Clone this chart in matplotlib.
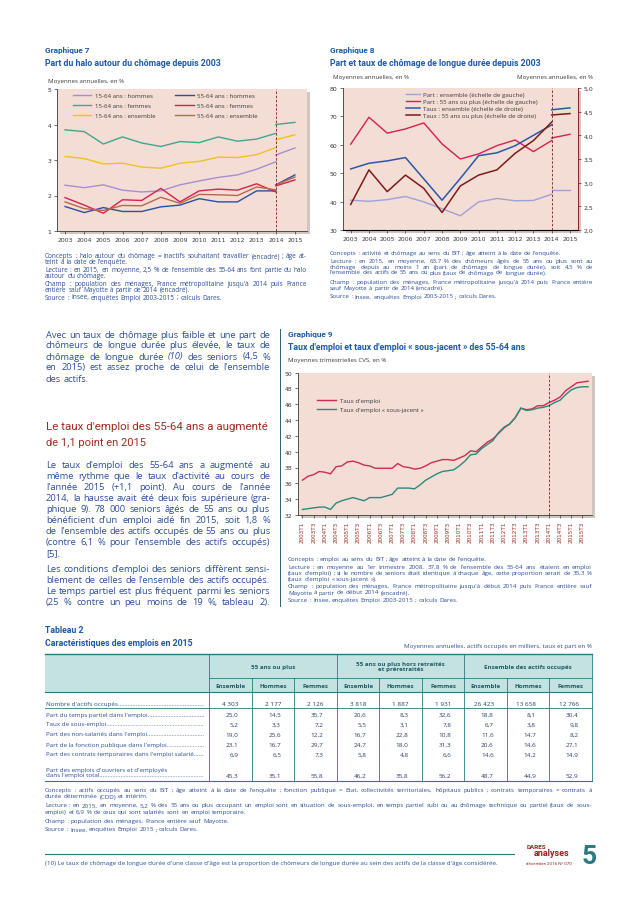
import numpy as np
import matplotlib.pyplot as plt
from matplotlib.lines import Line2D
from matplotlib.patches import Rectangle

W, H = 638, 903
BODY = ['Open Sans', 'DejaVu Sans']
NARROW = ['Roboto', 'Liberation Sans', 'DejaVu Sans']

BLUE_T = '#1f5aa6'
TXT = '#2c4f9c'
RED_H = '#9a2e22'
TEAL = '#2a7a80'
PINK = '#f3ddd4'
GREY = '#3a3a3a'

# ---- Graphique 7 : halo autour du chômage (old series to 2014, new from 2014)
years = list(range(2003, 2015))
years_new = [2014, 2015]
h1564 = [2.29, 2.22, 2.30, 2.15, 2.10, 2.13, 2.30, 2.41, 2.51, 2.58, 2.74, 2.95]
h1564_new = [3.14, 3.34]
f1564 = [3.85, 3.80, 3.45, 3.65, 3.48, 3.38, 3.52, 3.49, 3.65, 3.53, 3.59, 3.75]
f1564_new = [4.00, 4.06]
e1564 = [3.10, 3.04, 2.89, 2.91, 2.80, 2.77, 2.91, 2.96, 3.08, 3.07, 3.15, 3.35]
e1564_new = [3.57, 3.71]
h5564 = [1.69, 1.52, 1.66, 1.55, 1.55, 1.68, 1.73, 1.91, 1.82, 1.82, 2.13, 2.13]
h5564_new = [2.30, 2.58]
f5564 = [1.94, 1.73, 1.50, 1.88, 1.86, 2.20, 1.82, 2.13, 2.18, 2.15, 2.33, 2.10]
f5564_new = [2.27, 2.44]
e5564 = [1.82, 1.63, 1.58, 1.72, 1.71, 1.95, 1.78, 2.03, 2.02, 2.00, 2.24, 2.16]
e5564_new = [2.30, 2.52]

# ---- Graphique 8 : part et taux de chômage de longue durée
part_ens = [40.5, 40.1, 40.7, 41.8, 39.9, 37.5, 35.0, 39.9, 41.1, 40.3, 40.4, 42.6]
part_ens_new = [44.0, 44.0]
part_55 = [60.2, 69.7, 64.1, 65.6, 67.7, 60.3, 55.0, 56.8, 59.7, 61.7, 57.6, 61.5]
part_55_new = [62.4, 63.7]
taux_ens = [3.29, 3.41, 3.46, 3.53, 3.08, 2.63, 3.09, 3.57, 3.63, 3.78, 4.00, 4.22]
taux_ens_new = [4.54, 4.58]
taux_55 = [2.54, 3.27, 2.81, 3.16, 2.88, 2.37, 2.93, 3.16, 3.27, 3.62, 3.89, 4.28]
taux_55_new = [4.43, 4.46]

# ---- Graphique 9 : taux d'emploi trimestriel 2003T1-2015T4
quarters = [f"{y}T{q}" for y in range(2003, 2016) for q in range(1, 5)]
taux_emploi = [36.4, 36.9, 37.1, 37.5, 37.4, 37.2, 38.1, 38.2, 38.7, 38.8, 38.6, 38.3,
               38.2, 37.9, 37.9, 37.9, 37.9, 38.5, 38.1, 38.0, 37.8, 37.9, 38.2, 38.6,
               38.8, 39.0, 39.0, 38.9, 39.2, 39.5, 40.1, 40.0, 40.6, 41.2, 41.6, 42.3,
               43.0, 43.5, 44.3, 45.5, 45.3, 45.4, 45.8, 45.8, 46.2, 46.5, 46.9, 47.7,
               48.2, 48.7, 48.8, 48.9]
taux_sj = [32.7, 32.8, 32.9, 33.0, 33.0, 32.7, 33.5, 33.8, 34.0, 34.2, 34.0, 33.8,
           34.2, 34.2, 34.2, 34.4, 34.6, 35.4, 35.4, 35.4, 35.3, 35.8, 36.4, 36.8,
           37.2, 37.5, 37.6, 37.7, 38.2, 38.8, 39.6, 39.7, 40.4, 40.9, 41.4, 42.4,
           43.1, 43.5, 44.3, 45.5, 45.2, 45.3, 45.5, 45.6, 45.8, 46.2, 46.5, 47.2,
           47.8, 48.1, 48.2, 48.2]

# ---- Tableau 2
groups = ["55 ans ou plus", "55 ans ou plus hors retraités\net préretraités",
          "Ensemble des actifs occupés"]
subcols = ["Ensemble", "Hommes", "Femmes"]
row_labels = ["Nombre d'actifs occupés", "Part du temps partiel dans l'emploi",
              "Taux de sous-emploi", "Part des non-salariés dans l'emploi",
              "Part de la fonction publique dans l'emploi",
              "Part des contrats temporaires dans l'emploi salarié",
              "dans l'emploi total"]
table_values = [
    ["4 303", "2 177", "2 126", "3 818", "1 887", "1 931", "26 423", "13 658", "12 766"],
    ["25,0", "14,5", "35,7", "20,6", "8,3", "32,6", "18,8", "8,1", "30,4"],
    ["5,2", "3,3", "7,2", "5,5", "3,1", "7,8", "6,7", "3,8", "9,8"],
    ["19,0", "25,6", "12,2", "16,7", "22,8", "10,8", "11,6", "14,7", "8,2"],
    ["23,1", "16,7", "29,7", "24,7", "18,0", "31,3", "20,6", "14,6", "27,1"],
    ["6,9", "6,5", "7,3", "5,8", "4,8", "6,6", "14,6", "14,2", "14,9"],
    ["45,3", "35,1", "55,8", "46,2", "35,8", "56,2", "48,7", "44,9", "52,9"],
]

fig = plt.figure(figsize=(W / 100, H / 100), dpi=100)
renderer = fig.canvas.get_renderer()


def fx(x):
    return x / W


def fy(y):
    return 1 - y / H


def axes_px(x0, y0, x1, y1):
    return fig.add_axes([fx(x0), fy(y1), (x1 - x0) / W, (y1 - y0) / H])


def txt(x, y, s, size=4.3, color=TXT, family=BODY, **kw):
    kw.setdefault('va', 'center')
    return fig.text(fx(x), fy(y), s, fontsize=size, color=color, family=family, **kw)


def fit(x, y, s, width, size, color=BLUE_T, **kw):
    # the original titles use a condensed face: keep the size, cap the width
    kw.setdefault('family', NARROW)
    t = txt(x, y, s, size=size, color=color, **kw)
    w = t.get_window_extent(renderer).width
    if w > width:
        t.set_fontsize(size * width / w)
    return t


def hline(x0, x1, y, color=TEAL, lw=0.6, **kw):
    fig.add_artist(Line2D([fx(x0), fx(x1)], [fy(y), fy(y)], color=color, lw=lw, **kw))


def vline(x, y0, y1, color=TEAL, lw=0.6, **kw):
    fig.add_artist(Line2D([fx(x), fx(x)], [fy(y0), fy(y1)], color=color, lw=lw, **kw))


def make_words(s, y, size, color, family):
    arts = []
    for w in s.split():
        style = 'italic' if w.startswith('*') else 'normal'
        arts.append(txt(0, y, w.strip('*'), size=size, color=color,
                        family=family, style=style))
    return arts


def paragraph(lines, x0, x1, ys, size, color=TXT, family=BODY):
    # a line ending with '|' is the last line of a paragraph (not justified)
    width = x1 - x0
    sp = 0.27
    for s in lines:
        arts = make_words(s.rstrip('|'), 0, size, color, family)
        nat = sum(a.get_window_extent(renderer).width for a in arts)
        nat += sp * size * 1.389 * (len(arts) - 1)
        for a in arts:
            a.remove()
        if nat > width:
            size *= width / nat * 0.995
    for s, y in zip(lines, ys):
        last = s.endswith('|')
        arts = make_words(s.rstrip('|'), y, size, color, family)
        widths = [a.get_window_extent(renderer).width for a in arts]
        gap = sp * size * 1.389
        if not last and len(arts) > 1:
            gap = (width - sum(widths)) / (len(arts) - 1)
        x = x0
        for a, w in zip(arts, widths):
            a.set_x(fx(x))
            x += w + gap


def shadow(x0, y0, x1, y1):
    fig.add_artist(Rectangle((fx(x0 + 3), fy(y1 + 3)), (x1 - x0) / W, (y1 - y0) / H,
                             color='#cfc6c2', zorder=-5, lw=0))


def style_ax(ax):
    ax.set_facecolor(PINK)
    for s in ['top', 'right']:
        ax.spines[s].set_visible(False)
    for s in ['left', 'bottom']:
        ax.spines[s].set_color(GREY)
        ax.spines[s].set_linewidth(0.6)
    ax.tick_params(labelsize=4.4, length=2, width=0.5, color=GREY, labelcolor=GREY, pad=2)


# ================= Graphique 7
fit(45, 50, "Graphique 7", 45, 6.3, weight='bold')
fit(45, 63, "Part du halo autour du chômage depuis 2003", 180, 6.3, weight='bold')
txt(48, 81, "Moyennes annuelles, en %", size=4.4, color=GREY)
shadow(57, 90, 307, 232)
ax7 = axes_px(57, 90, 307, 232)
style_ax(ax7)
series7 = [(h1564, h1564_new, '#a58fd3', "15-64 ans : hommes"),
           (f1564, f1564_new, '#3ea78f', "15-64 ans : femmes"),
           (e1564, e1564_new, '#f2c21b', "15-64 ans : ensemble"),
           (h5564, h5564_new, '#2c4f9f', "55-64 ans : hommes"),
           (f5564, f5564_new, '#d6204e', "55-64 ans : femmes"),
           (e5564, e5564_new, '#b8694c', "55-64 ans : ensemble")]
for old, new, col, lab in series7:
    ax7.plot(years, old, color=col, lw=1.0, label=lab)
    ax7.plot(years_new, new, color=col, lw=1.0)
ax7.axvline(2014, color='#7a1d1d', ls=(0, (3, 2)), lw=0.6)
ax7.set_xlim(2002.58, 2015.63)
ax7.set_ylim(1, 5)
ax7.set_xticks(range(2003, 2016))
ax7.set_yticks(range(1, 6))
ax7.legend(ncol=2, loc='upper left', bbox_to_anchor=(0.05, 0.995), frameon=False,
           handlelength=3.0, handletextpad=0.6, labelspacing=0.75,
           columnspacing=3.3, borderpad=0, prop={'family': BODY, 'size': 4.4},
           labelcolor=GREY)

# ================= Graphique 8
fit(330, 50, "Graphique 8", 45, 6.3, weight='bold')
fit(330, 63, "Part et taux de chômage de longue durée depuis 2003", 215, 6.3, weight='bold')
txt(333, 78, "Moyennes annuelles, en %", size=4.4, color=GREY)
txt(593, 78, "Moyennes annuelles, en %", size=4.4, color=GREY, ha='right')
shadow(343, 89, 578, 231)
ax8 = axes_px(343, 89, 578, 231)
style_ax(ax8)
l1, = ax8.plot(years, part_ens, color='#9ea2d8', lw=1.0)
ax8.plot(years_new, part_ens_new, color='#9ea2d8', lw=1.0)
l2, = ax8.plot(years, part_55, color='#d6204e', lw=1.0)
ax8.plot(years_new, part_55_new, color='#d6204e', lw=1.0)
ax8.set_ylim(30, 80)
ax8.set_yticks(range(30, 81, 10))
ax8.set_xlim(2002.58, 2015.44)
ax8.set_xticks(range(2003, 2016))
ax8.axvline(2014, color='#7a1d1d', ls=(0, (3, 2)), lw=0.6)
ax8r = ax8.twinx()
l3, = ax8r.plot(years, taux_ens, color='#2c58a8', lw=1.1)
ax8r.plot(years_new, taux_ens_new, color='#2c58a8', lw=1.1)
l4, = ax8r.plot(years, taux_55, color='#7e1a17', lw=1.1)
ax8r.plot(years_new, taux_55_new, color='#7e1a17', lw=1.1)
ax8r.set_ylim(2.0, 5.0)
ax8r.set_yticks(np.arange(2.0, 5.01, 0.5))
ax8r.set_yticklabels([f"{v:.1f}".replace('.', ',') for v in np.arange(2.0, 5.01, 0.5)])
ax8r.spines['top'].set_visible(False)
ax8r.spines['left'].set_visible(False)
ax8r.spines['right'].set_color('#8b1f1a')
ax8r.spines['right'].set_linewidth(0.7)
ax8r.tick_params(labelsize=4.4, length=2, width=0.5, color='#8b1f1a', labelcolor=GREY, pad=2)
ax8r.legend([l1, l2, l3, l4],
            ["Part : ensemble (échelle de gauche)",
             "Part : 55 ans ou plus (échelle de gauche)",
             "Taux : ensemble (échelle de droite)",
             "Taux : 55 ans ou plus (échelle de droite)"],
            loc='upper left', bbox_to_anchor=(0.255, 0.995), frameon=False,
            handlelength=2.3, handletextpad=0.5, labelspacing=0.3, borderpad=0,
            prop={'family': BODY, 'size': 4.4}, labelcolor=GREY)

# ---- captions 7 & 8
paragraph(["Concepts : halo autour du chômage = inactifs souhaitant travailler (encadré) ; âge at-",
           "teint à la date de l'enquête.|",
           "Lecture : en 2015, en moyenne, 2,5 % de l'ensemble des 55-64 ans font partie du halo",
           "autour du chômage.|",
           "Champ : population des ménages, France métropolitaine jusqu'à 2014 puis France",
           "entière sauf Mayotte à partir de 2014 (encadré).|",
           "Source : Insee, enquêtes Emploi 2003-2015 ; calculs Dares.|"],
          45, 307, [256.7, 262.5, 270.7, 276.7, 284, 290, 298], 5.0)
paragraph(["Concepts : activité et chômage au sens du BIT ; âge atteint à la date de l'enquête.|",
           "Lecture : en 2015, en moyenne, 63,7 % des chômeurs âgés de 55 ans ou plus sont au",
           "chômage depuis au moins 1 an (part de chômage de longue durée), soit 4,5 % de",
           "l'ensemble des actifs de 55 ans ou plus (taux de chômage de longue durée).|",
           "Champ : population des ménages, France métropolitaine jusqu'à 2014 puis France entière",
           "sauf Mayotte à partir de 2014 (encadré).|",
           "Source : Insee, enquêtes Emploi 2003-2015 ; calculs Dares.|"],
          330, 593, [253.3, 261.5, 267.3, 273, 282.5, 288.5, 297], 5.0)

# ================= texte courant
paragraph(["Avec un taux de chômage plus faible et une part de",
           "chômeurs de longue durée plus élevée, le taux de",
           "chômage de longue durée *(10)* des seniors (4,5 %",
           "en 2015) est assez proche de celui de l'ensemble",
           "des actifs.|"],
          46, 270, [335, 346, 357, 368, 379], 7.6)
fit(46, 427, "Le taux d'emploi des 55-64 ans a augmenté", 222, 9.5, color=RED_H)
fit(46, 443, "de 1,1 point en 2015", 100, 9.5, color=RED_H)
paragraph(["Le taux d'emploi des 55-64 ans a augmenté au",
           "même rythme que le taux d'activité au cours de",
           "l'année 2015 (+1,1 point). Au cours de l'année",
           "2014, la hausse avait été deux fois supérieure (gra-",
           "phique 9). 78 000 seniors âgés de 55 ans ou plus",
           "bénéficient d'un emploi aidé fin 2015, soit 1,8 %",
           "de l'ensemble des actifs occupés de 55 ans ou plus",
           "(contre 6,1 % pour l'ensemble des actifs occupés)",
           "[5].|"],
          46, 270, [465.7, 476.7, 487.7, 498.5, 509.3, 520.3, 531.3, 542.3, 553.3], 7.6)
paragraph(["Les conditions d'emploi des seniors diffèrent sensi-",
           "blement de celles de l'ensemble des actifs occupés.",
           "Le temps partiel est plus fréquent parmi les seniors",
           "(25 % contre un peu moins de 19 %, tableau 2)."],
          46, 270, [569.3, 580.3, 591.3, 602.3], 7.6)
vline(279.5, 330, 607, color='#2c5f80', lw=0.7)

# ================= Graphique 9
fit(288, 335, "Graphique 9", 45, 6.3, weight='bold')
fit(288, 347, "Taux d'emploi et taux d'emploi « sous-jacent » des 55-64 ans", 250, 6.3,
    weight='bold')
txt(288, 361, "Moyennes trimestrielles CVS, en %", size=4.4, color=GREY)
shadow(298, 373.5, 592, 516)
ax9 = axes_px(298, 373.5, 592, 516)
style_ax(ax9)
xq = np.arange(len(quarters))
ax9.plot(xq, taux_emploi, color='#d12a50', lw=1.0, label="Taux d'emploi")
ax9.plot(xq, taux_sj, color='#2a8a7c', lw=1.0, label="Taux d'emploi « sous-jacent »")
ax9.axvline(quarters.index("2014T1"), color='#7a1d1d', ls=(0, (3, 2)), lw=0.6)
ax9.set_xlim(-0.8, 51.7)
ax9.set_ylim(32, 50)
ax9.set_yticks(range(32, 51, 2))
ax9.set_xticks(xq[::2])
ax9.set_xticklabels(quarters[::2], rotation=90, fontsize=4.1, color='#9a2e22')
ax9.legend(loc='upper left', bbox_to_anchor=(0.055, 0.845), frameon=False,
           handlelength=3.0, handletextpad=0.8, labelspacing=0.7, borderpad=0,
           prop={'family': BODY, 'size': 4.4}, labelcolor=GREY)
paragraph(["Concepts : emploi au sens du BIT ; âge atteint à la date de l'enquête.|",
           "Lecture : en moyenne au 1er trimestre 2008, 37,8 % de l'ensemble des 55-64 ans étaient en emploi",
           "(taux d'emploi) ; si le nombre de seniors était identique à chaque âge, cette proportion serait de 35,3 %",
           "(taux d'emploi « sous-jacent »).|",
           "Champ : population des ménages, France métropolitaine jusqu'à début 2014 puis France entière sauf",
           "Mayotte à partir de début 2014 (encadré).|",
           "Source : Insee, enquêtes Emploi 2003-2015 ; calculs Dares.|"],
          288, 592, [559.5, 567.5, 573.5, 579.5, 587, 593, 600.5], 5.0)

# ================= Tableau 2
fit(45, 631, "Tableau 2", 40, 6.3, weight='bold')
fit(45, 644, "Caractéristiques des emplois en 2015", 150, 6.3, weight='bold')
txt(592, 647, "Moyennes annuelles, actifs occupés en milliers, taux et part en %",
    size=4.5, color=TXT, ha='right')
tx0, tx1, c0 = 45, 592, 209.3
cw = (tx1 - c0) / 9
top, mid, hbot, sep, bot = 655, 679.3, 693.3, 709.3, 781.7
fig.add_artist(Rectangle((fx(tx0), fy(hbot)), (tx1 - tx0) / W, (hbot - top) / H,
                         color='#c4e2e1', lw=0, zorder=-3))
hline(tx0, tx1, top, lw=1.0)
hline(c0, tx1, mid)
hline(tx0, tx1, hbot, lw=0.8)
hline(tx0, tx1, sep)
hline(tx0, tx1, bot, lw=0.8)
for k in range(10):
    if k % 3 == 0:
        vline(c0 + k * cw, top, bot)
    else:
        vline(c0 + k * cw, mid, bot)
for g, name in enumerate(groups):
    txt(c0 + (3 * g + 1.5) * cw, (top + mid) / 2, name, size=4.5, color='#1f5f66',
        weight='bold', ha='center', linespacing=1.1)
    for j, sc in enumerate(subcols):
        txt(c0 + (3 * g + j + 0.5) * cw, (mid + hbot) / 2, sc, size=4.5,
            color='#1f5f66', weight='bold', ha='center')

row_y = [705, 715.3, 725, 735, 745, 755, 776]
for lab, y in zip(row_labels, row_y):
    t = txt(46, y, lab, size=4.5)
    while t.get_window_extent(renderer).x1 < 203:
        t.set_text(t.get_text() + '.')
txt(46, 770.5, "Part des emplois d'ouvriers et d'employés", size=4.5)
for vals, y in zip(table_values, row_y):
    for k, v in enumerate(vals):
        txt(c0 + (k + 0.5) * cw + 8, y, v, size=4.6, color='#2a3f6e', ha='right')

paragraph(["Concepts : actifs occupés au sens du BIT ; âge atteint à la date de l'enquête ; fonction publique = Etat, collectivités territoriales, hôpitaux publics ; contrats temporaires = contrats à",
           "durée déterminée (CDD) et intérim.|",
           "Lecture : en 2015, en moyenne, 5,2 % des 55 ans ou plus occupant un emploi sont en situation de sous-emploi, en temps partiel subi ou au chômage technique ou partiel (taux de sous-",
           "emploi) et 6,9 % de ceux qui sont salariés sont en emploi temporaire.|",
           "Champ : population des ménages, France entière sauf Mayotte.|",
           "Source : Insee, enquêtes Emploi 2015 ; calculs Dares.|"],
          45, 592, [790.6, 797, 806, 812.5, 821.5, 830], 5.0)

# ================= pied de page
hline(45, 514, 854.7, lw=0.8)
txt(45, 864, "(10) Le taux de chômage de longue durée d'une classe d'âge est la proportion "
    "de chômeurs de longue durée au sein des actifs de la classe d'âge considérée.",
    size=4.5)
fit(527, 847.5, "DARES", 20, 5, color='#9a1f1f', weight='bold')
fit(534, 853.5, "analyses", 38, 6.5, color='#9a1f1f', weight='bold')
fit(526, 864, "décembre 2016 N° 070", 46, 4.2, color='#9a1f1f')
txt(582, 857, "5", size=19, color=TEAL, family=NARROW, weight='bold')

fig.savefig("out.png", dpi=100, facecolor='white')
